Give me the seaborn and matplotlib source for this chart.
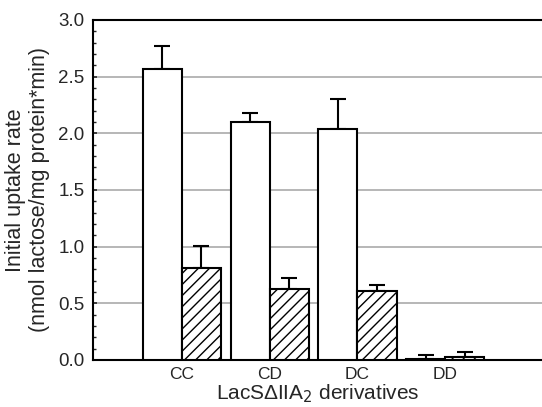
import pandas as pd
import numpy as np
import matplotlib
matplotlib.use("Agg")
import matplotlib.pyplot as plt
import seaborn as sns

categories = ["CC", "CD", "DC", "DD"]
series = ["open", "hatched"]
open_vals = [2.57, 2.10, 2.04, 0.01]
open_err = [0.20, 0.08, 0.26, 0.03]
hatched_vals = [0.81, 0.63, 0.61, 0.03]
hatched_err = [0.20, 0.09, 0.05, 0.04]

df = pd.DataFrame({
    "derivative": categories * 2,
    "kind": [series[0]] * 4 + [series[1]] * 4,
    "rate": open_vals + hatched_vals,
})

sns.set_style("white")
plt.rcParams["font.family"] = ["Liberation Sans", "DejaVu Sans"]
plt.rcParams["hatch.linewidth"] = 1.0

fig = plt.figure(figsize=(5.42, 4.07), dpi=100)
ax = fig.add_axes([0.1716, 0.1155, 0.8284, 0.8355])

ax.yaxis.grid(True, color="#aaaaaa", linewidth=1.2, zorder=0)
ax.set_axisbelow(True)

sns.barplot(data=df, x="derivative", y="rate", hue="kind", order=categories,
            hue_order=series, width=0.89, dodge=True, errorbar=None,
            palette=["white", "white"], edgecolor="black", linewidth=1.5,
            legend=False, ax=ax, zorder=3)

errs = {series[0]: open_err, series[1]: hatched_err}
vals = {series[0]: open_vals, series[1]: hatched_vals}
for cont, name in zip(ax.containers, series):
    xs = [p.get_x() + p.get_width() / 2 for p in cont.patches]
    for p in cont.patches:
        p.set_facecolor("white")
        if name == "hatched":
            p.set_hatch("///")
    ax.errorbar(xs, vals[name], yerr=[np.zeros(4), errs[name]], fmt="none",
                ecolor="black", elinewidth=1.5, capsize=6, capthick=1.5, zorder=2)

ax.set_xlim(-1.01, 4.1)
ax.set_ylim(0, 3.0)
ax.set_yticks(np.arange(0, 3.01, 0.5))
ax.set_yticklabels([f"{v:.1f}" for v in np.arange(0, 3.01, 0.5)], fontsize=13.5)
ax.set_yticks(np.arange(0, 3.01, 0.1), minor=True)
ax.tick_params(axis="y", which="major", direction="in", length=3, width=1.2, left=True, pad=6)
ax.tick_params(axis="y", which="minor", direction="in", length=2, width=1, left=True)
ax.tick_params(axis="x", length=0, labelsize=12.5, pad=5)

for s in ["left", "bottom", "top"]:
    ax.spines[s].set_visible(True)
    ax.spines[s].set_color("black")
    ax.spines[s].set_linewidth(1.5)
ax.spines["right"].set_visible(False)

ax.set_xlabel("LacS\u0394IIA$_2$ derivatives", fontsize=15, labelpad=0)
ax.set_ylabel("Initial uptake rate\n(nmol lactose/mg protein*min)", fontsize=15.5, labelpad=6)

fig.savefig("out.png", dpi=100)
